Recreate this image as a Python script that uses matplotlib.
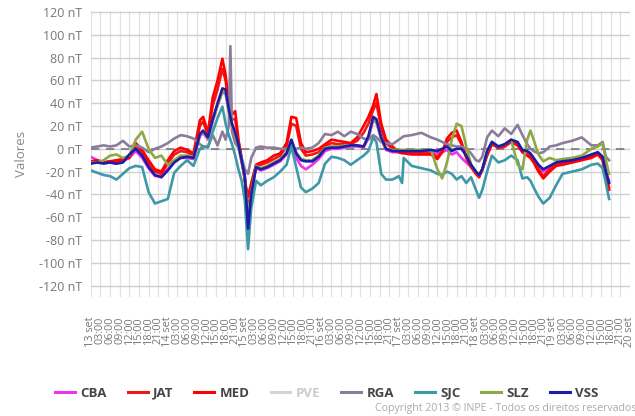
import matplotlib
matplotlib.use("Agg")
import matplotlib.pyplot as plt

# hours since 13 set 00:00
HOURS = [0, 2, 4, 6, 8, 10, 12, 14, 16, 18,
         20, 22, 24, 26, 28, 30, 32, 34, 35, 36.5,
         38, 39.5, 41, 42, 43, 43.5, 44, 45, 46, 47,
         48, 49, 50, 51.5, 53, 55, 57, 59, 61, 62.5,
         64, 65.5, 67, 69, 71, 73, 75, 77, 79, 81,
         83, 85, 86.5, 88, 89, 90.5, 92, 94, 96, 97,
         97.5, 100, 103, 106, 108, 109.5, 111, 112.5, 114, 115.5,
         117, 118.5, 120, 121, 122, 123.5, 125, 127, 129, 131,
         133, 134.5, 136, 137, 138, 139.5, 141, 143, 145, 147,
         150, 153, 156, 158, 159.5, 160.5, 161.5]

CBA = [-7, -10, -12, -12, -13, -11, -8, -2, -8, -17,
       -24, -24, -18, -11, -8, -8, -9, 11, 14, 8,
       24, 38, 50, 48, 33, 26, 20, 12, 2, -12,
       -26, -65, -38, -17, -19, -17, -14, -11, -5, 6,
       -8, -15, -18, -14, -9, -2, 0, 0, 1, 2,
       2, 1, 9, 25, 23, 8, -1, -3, -3, -3,
       -3, -3, -3, -3, -4, -3, -1, -5, -3, -8,
       -12, -16, -21, -24, -19, -4, 4, 1, 3, 6,
       4, -3, -4, -6, -10, -16, -20, -17, -13, -12,
       -11, -9, -6, -4, -8, -20, -28]

JAT = [-12, -11, -12, -11, -11, -10, -7, 3, -3, -13,
       -20, -22, -13, -5, -2, -3, -6, 20, 24, 12,
       38, 52, 70, 60, 38, 30, 26, 26, 6, -9,
       -26, -55, -35, -15, -14, -12, -9, -6, 2, 22,
       20, 0, -6, -5, -3, 2, 5, 4, 4, 4,
       7, 14, 22, 34, 40, 18, 5, 0, -3, -3,
       -3, -4, -4, -4, -7, -2, 6, 10, 12, 4,
       -7, -15, -21, -24, -18, -4, 5, 1, 3, 7,
       4, -2, -5, -6, -10, -18, -24, -18, -14, -13,
       -11, -9, -7, -4, -9, -23, -34]

MED = [-11, -10, -12, -11, -10, -9, -8, 5, -1, -10,
       -18, -20, -10, -2, 1, -1, -4, 25, 28, 14,
       45, 60, 79, 65, 40, 31, 30, 33, 8, -8,
       -28, -42, -30, -14, -12, -10, -6, -4, 5, 28,
       27, 5, -3, -2, 0, 4, 8, 7, 6, 5,
       10, 20, 28, 38, 48, 22, 8, 2, -3, -4,
       -4, -5, -5, -5, -9, -3, 9, 14, 16, 6,
       -8, -16, -22, -25, -18, -6, 4, 1, 2, 6,
       3, -3, -6, -8, -12, -20, -26, -20, -15, -14,
       -12, -10, -8, -5, -10, -25, -36]

PVE = []

RGA = [1, 2, 3, 2, 3, 7, 2, 3, 1, -3,
       0, 2, 5, 9, 12, 11, 9, 4, 2, 2,
       12, 3, 15, 8, 20, 90, 15, 5, 1, -8,
       -18, -22, -8, 1, 2, 1, 1, 0, 0, 1,
       0, 1, 0, 1, 5, 13, 12, 15, 11, 15,
       13, 9, 8, 12, 10, 6, 5, 4, 8, 10,
       11, 12, 14, 10, 8, 6, 4, 3, 2, 2,
       0, -4, -10, -11, -7, 10, 16, 11, 18, 13,
       21, 12, 4, 0, -2, -4, -3, 2, 3, 5,
       7, 10, 3, 3, 6, -7, -10]

SJC = [-19, -21, -23, -24, -27, -22, -17, -15, -16, -38,
       -48, -46, -44, -21, -15, -10, -15, 0, 2, 1,
       15, 27, 37, 22, 12, 8, 4, -6, -18, -28,
       -45, -88, -52, -28, -32, -28, -25, -20, -14, 2,
       -16, -34, -38, -35, -30, -13, -7, -8, -10, -14,
       -10, -6, -2, 10, 6, -22, -27, -27, -24, -30,
       -8, -15, -17, -19, -22, -23, -20, -22, -27, -24,
       -30, -25, -36, -43, -36, -20, -6, -12, -10, -6,
       -10, -26, -25, -28, -34, -42, -48, -43, -32, -22,
       -20, -18, -14, -13, -17, -30, -44]

SLZ = [-12, -12, -10, -6, -5, -8, -6, 8, 15, 0,
       -8, -6, -14, -10, -6, -6, -7, 12, 15, 9,
       25, 38, 50, 50, 33, 27, 21, 13, 3, -11,
       -25, -60, -38, -15, -17, -15, -12, -9, -3, 7,
       -3, -9, -10, -10, -6, 1, 2, 2, 3, 3,
       3, 2, 10, 26, 24, 9, 0, -1, -1, -1,
       -1, -1, -1, -1, -18, -26, -12, 8, 22, 20,
       2, -14, -20, -23, -18, -2, 6, 2, 4, 8,
       -14, -18, 8, 16, 8, -5, -11, -8, -10, -9,
       -8, -6, 0, 2, 5, -10, -22]

VSS = [-13, -12, -13, -12, -13, -12, -5, 0, -6, -16,
       -23, -25, -19, -12, -8, -7, -8, 13, 16, 10,
       26, 40, 53, 52, 35, 28, 22, 14, 4, -10,
       -24, -70, -40, -16, -18, -16, -13, -10, -4, 8,
       -4, -10, -11, -11, -7, 0, 1, 1, 2, 3,
       3, 2, 11, 28, 26, 10, 0, -2, -2, -2,
       -2, -2, -2, -1, -2, 0, 2, -2, 0, 0,
       -6, -14, -20, -23, -18, -2, 6, 2, 4, 8,
       6, -1, -2, -4, -8, -14, -18, -15, -12, -11,
       -10, -8, -5, -3, -7, -20, -30]

SERIES = [("CBA", CBA, "#ee33ee"), ("JAT", JAT, "#f01818"),
          ("MED", MED, "#ff0000"), ("PVE", PVE, "#d4d4d4"),
          ("RGA", RGA, "#8c7c9c"), ("SJC", SJC, "#3d98a8"),
          ("SLZ", SLZ, "#8ea844"), ("VSS", VSS, "#1c1ca8")]

plt.rcParams["font.family"] = ["Open Sans", "DejaVu Sans"]

fig = plt.figure(figsize=(6.35, 4.16), dpi=100)
ax = fig.add_axes([0.143, 0.286, 0.849, 0.688])

ax.axhline(0, color="#777777", lw=1.2, ls=(0, (5, 4)), zorder=1)
for i, (name, vals, col) in enumerate(SERIES):
    ax.plot(HOURS[:len(vals)], vals, color=col, lw=1.9, label=name,
            zorder=2 + i, solid_joinstyle="round")

ax.set_xlim(0, 168)
ax.set_ylim(-130, 121)
ax.set_yticks(range(-120, 121, 20))
ax.set_yticklabels([f"{v} nT" for v in range(-120, 121, 20)])
xt = list(range(0, 169, 3))
ax.set_xticks(xt)
ax.set_xticklabels([f"{13 + h // 24} set" if h % 24 == 0 else f"{h % 24:02d}:00" for h in xt],
                   rotation=90, va="top", ha="center")
ax.tick_params(axis="x", length=0, pad=14, labelsize=7.8, labelcolor="#777777")
ax.tick_params(axis="y", length=0, pad=6, labelsize=9, labelcolor="#777777")
ax.grid(True, axis="y", color="#cfcfcf", lw=1.0)
ax.grid(True, axis="x", color="#e2e2e2", lw=0.9)
for s in ax.spines.values():
    s.set_visible(False)
ax.set_axisbelow(True)
ax.set_ylabel("Valores", color="#888888", fontsize=9.5, labelpad=8)

leg = fig.legend(loc="center", bbox_to_anchor=(0.515, 0.055), ncol=8, frameon=False,
                 handlelength=1.5, handletextpad=0.4, columnspacing=1.6,
                 prop={"weight": "bold", "size": 9.5})
for t in leg.get_texts():
    t.set_color("#cccccc" if t.get_text() == "PVE" else "#444444")
for h in leg.get_lines():
    h.set_linewidth(2.2)

fig.text(0.59, 0.019, "Copyright 2013 \u00a9 INPE - Todos os direitos reservados",
         fontsize=7.6, color="#aaaaaa", ha="left", va="center")

fig.savefig("out.png", dpi=100)
